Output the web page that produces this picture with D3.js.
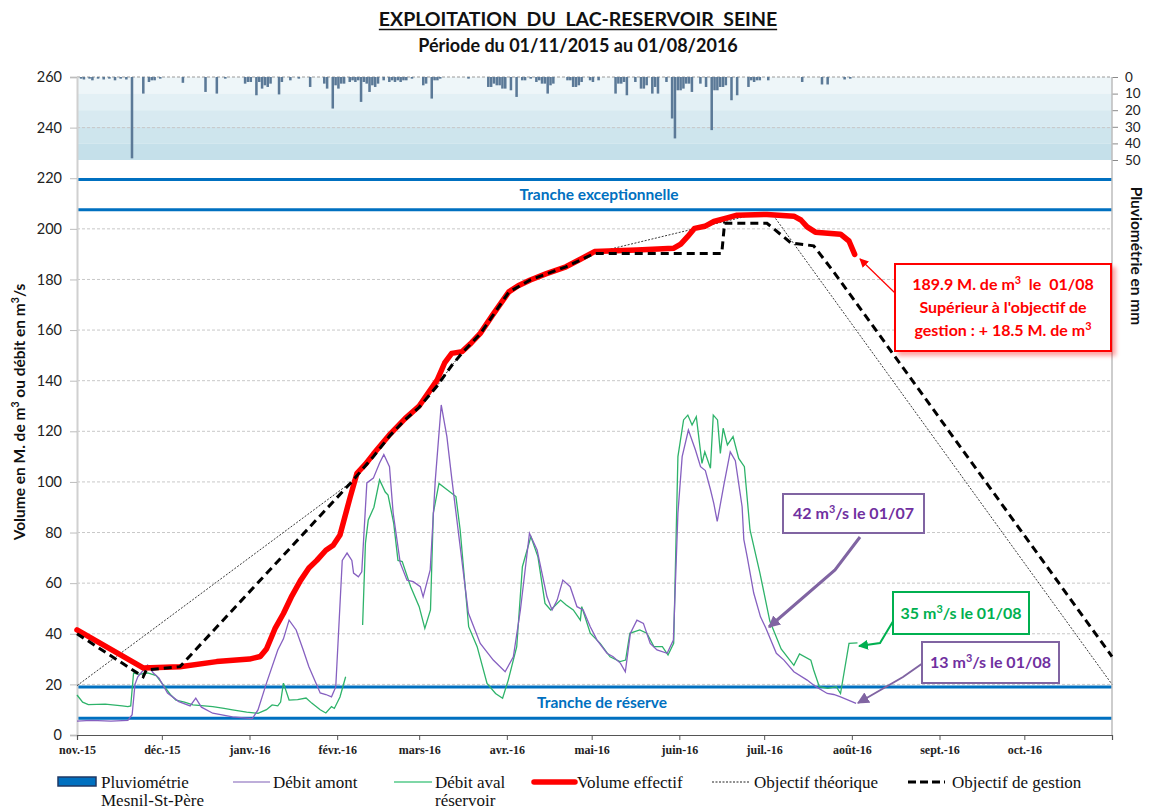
<!DOCTYPE html>
<html>
<head>
<meta charset="UTF-8">
<script src="https://cdnjs.cloudflare.com/ajax/libs/d3/7.8.5/d3.min.js"></script>
<style>
  * { margin: 0; padding: 0; }
  body { background: #fff; }
  svg { display: block; }
</style>
</head>
<body>
<svg id="chart" width="1150" height="812"></svg>
<script>
// --- Données ---
// Les séries sont données en [jour depuis le 01/11/2015, valeur]
var START = new Date(2015, 10, 1);
var END = new Date(2016, 10, 1);

var monthLabels = ["nov.-15", "déc.-15", "janv.-16", "févr.-16", "mars-16", "avr.-16",
  "mai-16", "juin-16", "juil.-16", "août-16", "sept.-16", "oct.-16"];
var yTicks = [0, 20, 40, 60, 80, 100, 120, 140, 160, 180, 200, 220, 240, 260];
var rainTicks = [0, 10, 20, 30, 40, 50];

// Niveaux des tranches (M. de m3)
var trancheLines = [219.5, 207.5, 19, 6.6];

// Pluviométrie Mesnil-St-Père (mm/jour)
var rainDays = [1, 2, 4, 5, 7, 9, 11, 13, 15, 17, 19, 23, 25, 26, 27, 29, 37, 45, 49, 52,
  59, 60, 61, 63, 64, 65, 66, 67, 68, 71, 72, 75, 78, 82, 87, 88, 90, 91, 92, 93,
  94, 96, 97, 98, 99, 100, 101, 102, 103, 104, 105, 106, 108, 110, 111, 112, 113, 114, 115, 116,
  118, 122, 123, 125, 126, 127, 128, 138, 145, 146, 147, 148, 149, 150, 151, 153, 155, 157, 158, 160,
  162, 163, 164, 165, 166, 167, 168, 173, 174, 175, 176, 177, 178, 181, 182, 184, 190, 191, 192, 193,
  194, 197, 199, 200, 201, 203, 204, 205, 208, 210, 211, 212, 213, 214, 215, 216, 217, 220, 222, 224,
  225, 226, 227, 228, 229, 231, 233, 237, 238, 239, 240, 241, 244, 256, 263, 265, 271, 273];
var rainMm = [1, 1.5, 1, 2, 1, 1.5, 1, 2, 1, 1.5, 49, 10, 3, 2, 2, 1, 3.5, 9, 10, 1,
  4, 3, 3, 11, 3, 7, 5, 6, 4, 10.5, 3, 2, 1, 6, 4, 7, 19, 5, 7, 4,
  4, 3, 2, 3, 2, 15, 3, 4, 9, 5, 6, 4, 2, 3, 2, 3, 2, 3, 2, 2,
  1, 5, 4, 13, 2, 2, 1, 1, 6, 6, 4, 5, 5, 7, 7, 8, 12, 2, 2, 1,
  3, 2, 4, 4, 10, 5, 4, 2, 2, 6, 6, 5, 3, 2, 3, 2, 10, 4, 4, 3,
  11, 3, 7, 7, 5, 10, 6, 10, 3, 25, 37, 8, 8, 7, 4, 4, 9, 4, 6, 32,
  8, 8, 6, 6, 5, 14, 11, 6, 2, 3, 2, 2, 2, 3, 4.5, 4.5, 1.5, 1];

// Débit amont (m3/s)
var amont = [[0, 5.5], [5, 5.8], [12, 5.5], [18, 5.8], [19.5, 8], [20.5, 20], [21.5, 23], [23, 25],
  [25, 27.6], [27, 24.5], [29, 22.5], [32, 16.6], [36, 13.2], [40, 11.5], [42, 14.6], [44, 11],
  [48, 8.6], [55, 7.2], [62, 6.5], [64, 9.9], [67, 20.5], [71, 33.6], [73, 38], [75, 45.4],
  [77.5, 41.5], [80, 33.6], [82, 27], [86, 16.6], [88, 16], [90, 15.1], [91.5, 19], [93.8, 69],
  [95.5, 71.9], [97.2, 69], [97.8, 64], [99.5, 62.5], [100.7, 64.5], [102.5, 99.6], [104.8, 101.5],
  [107, 107.5], [108.5, 110.8], [110.5, 106], [111.8, 87.7], [114.3, 68], [116.7, 61.2],
  [118.9, 60.6], [121.4, 58.6], [122.4, 54.6], [124.9, 65.2], [126.7, 100.7], [128.8, 130.4],
  [130.8, 117.9], [132.6, 100.7], [135.5, 74.4], [138.4, 48.2], [142.6, 36.2], [147.2, 29.6],
  [151.4, 25], [154.3, 30.9], [156.8, 49.4], [160, 79.7], [162.7, 73.1], [166.2, 54.6], [168, 49.4],
  [169.8, 53.3], [171.8, 61.2], [174.4, 58.6], [176.8, 50.7], [179, 49.4], [181.5, 42.8],
  [183.9, 37.5], [187.4, 32.3], [189.6, 30.9], [192.2, 28.3], [193.9, 25], [195.7, 40.2],
  [198, 45.4], [200.3, 44.1], [202.7, 36.2], [205.1, 33.6], [208.7, 32.3], [210.9, 37.5],
  [212.5, 87.6], [214, 110], [216.2, 120.5], [218.7, 112.6], [220.5, 106], [222.2, 104.5],
  [224, 97], [225.2, 91.4], [226.4, 84.4], [228.7, 98.5], [231, 111.9], [232.8, 108.4],
  [235.2, 90.2], [235.8, 77.3], [237, 70.4], [239.3, 56.1], [241.7, 46.7], [243.5, 42.5],
  [247.3, 32.3], [250, 29.6], [253.5, 25], [258.2, 21.7], [261, 19.3], [265.3, 16.4],
  [267.6, 16], [270, 15.1], [275.5, 12.5]];

// Débit aval réservoir (m3/s) - null = lacune
var aval = [[0, 15.8], [2, 13], [4, 12], [10, 12.2], [16, 11.5], [18, 11.2], [19, 11.5], [20, 24.5],
  [22, 24], [25, 24.5], [28, 23.5], [30, 20.5], [33, 16], [35, 13.8], [38, 13], [41, 11.9],
  [45, 11.5], [48, 11.2], [52, 10.5], [55, 9.9], [60, 9], [64, 8.6], [67, 10], [69, 11.9],
  [71, 11.5], [72, 13], [73, 20.5], [75, 13.8], [78, 14], [81, 14.6], [83, 12.6], [86, 10],
  [88, 8.7], [90, 11.2], [91, 10.5], [93, 15], [95, 23], [96, null], [101, 43.5], [102, 75.8],
  [103, 85], [105, 90], [107, 100.8], [109, 96], [110, 94.8], [112, 83.6], [113.5, 69],
  [115, 68.5], [118, 58.6], [121, 50.7], [123, 42.1], [125, 49.4], [126, 87.7], [128, 99.4],
  [131, 96.8], [134, 94.2], [135.5, 81], [138.5, 42.8], [141.5, 34.9], [145, 20.4], [148, 16.4],
  [150.5, 14.5], [152.5, 21.7], [155.5, 34.9], [157.5, 66.5], [160.5, 78.4], [163, 70.4],
  [165.5, 52], [167.5, 49.4], [171, 53.3], [173, 51.4], [175.5, 49.4], [178, 45.4], [178.5, 50.7],
  [181.5, 40.2], [185, 36.2], [188.5, 30.9], [192, 29], [194, 29.6], [195.5, 40.2], [199, 41.5],
  [201.5, 40.2], [204, 34.9], [207, 34.9], [209, 31.6], [211, 36.2], [212.5, 110], [214.5, 124.5],
  [216, 126.4], [217.5, 122.5], [219, 125.8], [221, 107.3], [222, 111.9], [224, 105.4],
  [225, 126.4], [226.5, 124.5], [227.5, 111.3], [228.5, 121.2], [230, 114.6], [232, 117.9],
  [234, 109.3], [236, 106], [238, 81], [241.5, 64], [245, 45], [249, 34], [253.5, 27.5],
  [255.5, 32], [259.5, 29.6], [260.5, 25.7], [262.5, 19.1], [265.5, 18.4], [268.5, 19.1],
  [270, 16.4], [273, 36.2], [276, 36.4]];

// Volume effectif (M. de m3)
var volume = [[0, 41.5], [23.4, 26.5], [36.4, 27], [49.4, 29], [61, 30], [64.8, 31], [67, 34],
  [70, 42], [73, 48], [76, 55], [79, 61], [82, 66], [84.8, 69], [88, 73], [90.6, 75], [93, 79],
  [96.6, 94], [99, 103.4], [102, 107], [104.8, 111], [110.8, 119], [116, 125], [121, 130],
  [127.4, 140.3], [130, 147], [132.5, 150.8], [136.2, 151.5], [139.5, 155], [142.6, 158.7],
  [147, 166], [152.7, 175.1], [156, 177.5], [160.3, 179.8], [166, 182.3], [172.9, 185],
  [178, 188], [183, 191], [198, 191.6], [210.9, 192.3], [213.5, 194], [215.9, 196.9],
  [218.4, 200.2], [222, 201], [225.2, 202.9], [229.9, 204.3], [233.4, 205.4], [244, 205.7],
  [253.5, 205], [256, 203.5], [258.2, 200.8], [261.1, 198.7], [270, 197.9], [273, 195.2],
  [275, 189.9]];

// Objectif théorique
var objTheorique = [[0, 19.5], [96.6, 99.6], [104.8, 110], [110.8, 118.5], [116, 124.5],
  [121, 129.5], [127.4, 138], [132.5, 146], [136.2, 151], [142.6, 158.5], [152.7, 175],
  [160.3, 179.8], [172.9, 185], [183, 190.5], [242, 206.4], [246, 205.7], [366, 20]];

// Objectif de gestion
var objGestion = [[0, 40], [23.4, 23], [24.5, 25.7], [36.4, 27], [96.6, 99.4], [104.8, 110],
  [110.8, 118.5], [116, 124.5], [121, 129.5], [127.4, 138], [132.5, 146], [136.2, 151],
  [142.6, 158.5], [152.7, 175], [160.3, 179.8], [172.9, 185], [183, 190.3], [228, 190.3],
  [229, 202.2], [244, 202.2], [252.5, 194.4], [260.5, 193.3], [267.6, 183], [366, 31]];

// --- Mise en page ---
var svg = d3.select("#chart");
var SANS = "Lato, 'Open Sans', sans-serif";
var SERIF = "'Liberation Serif', 'DejaVu Serif', serif";

var x = d3.scaleTime().domain([START, END]).range([77, 1112]);
var y = d3.scaleLinear().domain([0, 260]).range([735, 77]);
var yRain = d3.scaleLinear().domain([0, 50]).range([77, 160]);
function day(d) { return d3.timeDay.offset(START, Math.floor(d)).getTime() + (d % 1) * 864e5; }
function xd(d) { return x(new Date(day(d))); }

var defs = svg.append("defs");
function arrowMarker(id, color, size) {
  defs.append("marker").attr("id", id).attr("viewBox", "0 0 10 10").attr("refX", 9).attr("refY", 5)
    .attr("markerWidth", size).attr("markerHeight", size).attr("orient", "auto")
    .attr("markerUnits", "userSpaceOnUse")
    .append("path").attr("d", "M0,0L10,5L0,10z").attr("fill", color);
}
arrowMarker("arr-red", "#ff0000", 9);
arrowMarker("arr-purple", "#8064a2", 12);
arrowMarker("arr-green", "#00b050", 10);
var shadow = defs.append("filter").attr("id", "shadow").attr("x", "-10%").attr("y", "-10%")
  .attr("width", "130%").attr("height", "140%");
shadow.append("feDropShadow").attr("dx", 4).attr("dy", 4).attr("stdDeviation", 2)
  .attr("flood-color", "#ff0000").attr("flood-opacity", 0.35);

// texte avec exposant "³"
function richText(sel, str) {
  var parts = str.split("³");
  parts.forEach(function(p, i) {
    sel.append("tspan").text(p).attr("dy", i > 0 ? "0.38em" : null);
    if (i < parts.length - 1) {
      sel.append("tspan").text("3").attr("font-size", "0.68em").attr("dy", "-0.55em");
    }
  });
  return sel;
}

// Titre
var t1 = svg.append("text").attr("x", 578).attr("y", 26).attr("text-anchor", "middle")
  .attr("font-family", SANS).attr("font-weight", "bold").attr("font-size", 19.5).attr("fill", "#111")
  .style("white-space", "pre")
  .text("EXPLOITATION  DU  LAC-RESERVOIR  SEINE");
var tw = t1.node().getComputedTextLength();
svg.append("line").attr("x1", 578 - tw / 2).attr("x2", 578 + tw / 2).attr("y1", 29.5).attr("y2", 29.5)
  .attr("stroke", "#111").attr("stroke-width", 1.4);
svg.append("text").attr("x", 578).attr("y", 52).attr("text-anchor", "middle")
  .attr("font-family", SANS).attr("font-weight", "bold").attr("font-size", 18).attr("fill", "#111")
  .text("Période du 01/11/2015 au 01/08/2016");

// Bandeau pluviométrie
var bandColors = ["#eef6f9", "#e3f0f5", "#d8eaf1", "#cee5ed", "#c5e0ea"];
svg.append("g").selectAll("rect").data(bandColors).enter().append("rect")
  .attr("x", 77).attr("width", 1112 - 77)
  .attr("y", function(d, i) { return yRain(i * 10); })
  .attr("height", yRain(10) - yRain(0))
  .attr("fill", function(d) { return d; });

// Grille
svg.append("g").selectAll("line").data([20, 40, 60, 80, 100, 120, 140, 160, 180, 200, 240, 260])
  .enter().append("line")
  .attr("x1", 77).attr("x2", 1112)
  .attr("y1", function(d) { return y(d); }).attr("y2", function(d) { return y(d); })
  .attr("stroke", function(d) { return d === 260 ? "#9a9a9a" : "#c8c8c8"; })
  .attr("stroke-width", 1).attr("stroke-dasharray", "3,2");

// Barres de pluie
svg.append("g").selectAll("rect").data(rainDays).enter().append("rect")
  .attr("x", function(d) { return xd(d); })
  .attr("width", xd(1) - xd(0) - 0.3)
  .attr("y", yRain(0))
  .attr("height", function(d, i) { return yRain(rainMm[i]) - yRain(0); })
  .attr("fill", "#5b7997");

// Tranches
svg.append("g").selectAll("line").data(trancheLines).enter().append("line")
  .attr("x1", 77).attr("x2", 1112)
  .attr("y1", function(d) { return y(d); }).attr("y2", function(d) { return y(d); })
  .attr("stroke", "#0070c0").attr("stroke-width", 3);
svg.append("text").attr("x", 599).attr("y", 200).attr("text-anchor", "middle")
  .attr("font-family", SANS).attr("font-weight", "bold").attr("font-size", 15.5).attr("fill", "#0070c0")
  .text("Tranche exceptionnelle");
svg.append("text").attr("x", 602).attr("y", 708).attr("text-anchor", "middle")
  .attr("font-family", SANS).attr("font-weight", "bold").attr("font-size", 15.5).attr("fill", "#0070c0")
  .text("Tranche de réserve");

// Axes
var gl = svg.append("g").attr("transform", "translate(77,0)")
  .call(d3.axisLeft(y).tickValues(yTicks).tickSize(7).tickPadding(8));
gl.select(".domain").attr("stroke", "#d0d0d0").attr("stroke-width", 2);
gl.selectAll(".tick line").attr("stroke", "#bdbdbd");
gl.selectAll(".tick text").attr("font-family", SANS).attr("font-size", 14.5).attr("fill", "#222");

var gr = svg.append("g").attr("transform", "translate(1112,0)")
  .call(d3.axisRight(yRain).tickValues(rainTicks).tickSize(6).tickPadding(7));
gr.select(".domain").remove();
gr.selectAll(".tick line").attr("stroke", "#8a8a8a");
gr.selectAll(".tick text").attr("font-family", SANS).attr("font-size", 13.5).attr("fill", "#222");
svg.append("line").attr("x1", 1112).attr("x2", 1112).attr("y1", 77).attr("y2", 735)
  .attr("stroke", "#bdbdbd").attr("stroke-width", 1.5);

var monthDates = d3.timeMonth.range(START, END);
var gb = svg.append("g").attr("transform", "translate(0,735)")
  .call(d3.axisBottom(x).tickValues(monthDates.concat([END])).tickSize(5).tickPadding(5)
    .tickFormat(function(d, i) { return monthLabels[i] || ""; }));
gb.select(".domain").attr("stroke", "#555").attr("stroke-width", 1.2);
gb.selectAll(".tick line").attr("stroke", "#555");
gb.selectAll(".tick text").attr("font-family", SERIF).attr("font-weight", "bold")
  .attr("font-size", 12).attr("fill", "#222");

// Titres d'axes
richText(svg.append("text").attr("transform", "translate(25,412) rotate(-90)")
  .attr("text-anchor", "middle").attr("font-family", SANS).attr("font-weight", "bold")
  .attr("font-size", 15.5).attr("fill", "#111"), "Volume en M. de m³ ou débit en m³/s");
svg.append("text").attr("transform", "translate(1131,256) rotate(90)")
  .attr("text-anchor", "middle").attr("font-family", SANS).attr("font-weight", "bold")
  .attr("font-size", 15.5).attr("fill", "#111").text("Pluviométrie en mm");

// Courbes
function lineGen() {
  return d3.line().defined(function(p) { return p[1] != null; })
    .x(function(p) { return xd(p[0]); }).y(function(p) { return y(p[1]); });
}
svg.append("path").datum(aval).attr("d", lineGen()).attr("fill", "none")
  .attr("stroke", "#2eb36a").attr("stroke-width", 1.3);
svg.append("path").datum(amont).attr("d", lineGen()).attr("fill", "none")
  .attr("stroke", "#8660c0").attr("stroke-width", 1.3);
svg.append("path").datum(objTheorique).attr("d", lineGen()).attr("fill", "none")
  .attr("stroke", "#222").attr("stroke-width", 0.9).attr("stroke-dasharray", "2,1.5");
svg.append("path").datum(volume).attr("d", lineGen()).attr("fill", "none")
  .attr("stroke", "#ff0000").attr("stroke-width", 5.5).attr("stroke-linejoin", "round")
  .attr("stroke-linecap", "round");
svg.append("path").datum(objGestion).attr("d", lineGen()).attr("fill", "none")
  .attr("stroke", "#000").attr("stroke-width", 3).attr("stroke-dasharray", "8,5");

// Annotations
function callout(box, color, border, lines, fs, arrowPts, arrowW, marker, withShadow) {
  var g = svg.append("g");
  g.append("path").attr("d", d3.line()(arrowPts)).attr("fill", "none").attr("stroke", border)
    .attr("stroke-width", arrowW).attr("marker-end", "url(#" + marker + ")");
  g.append("rect").attr("x", box[0]).attr("y", box[1]).attr("width", box[2]).attr("height", box[3])
    .attr("fill", "#fff").attr("stroke", border).attr("stroke-width", 2)
    .attr("filter", withShadow ? "url(#shadow)" : null);
  var lh = fs * 1.45;
  var y0 = box[1] + box[3] / 2 - (lines.length - 1) * lh / 2 + fs * 0.35;
  lines.forEach(function(s, i) {
    richText(g.append("text").attr("x", box[0] + box[2] / 2).attr("y", y0 + i * lh)
      .attr("text-anchor", "middle").attr("font-family", SANS).attr("font-weight", "bold")
      .attr("font-size", fs).attr("fill", color).style("white-space", "pre"), s);
  });
}
callout([895, 264, 216, 87], "#ff0000", "#ff0000",
  ["189.9 M. de m³  le  01/08", "Supérieur à l'objectif de", "gestion : + 18.5 M. de m³"], 16,
  [[895, 293], [860, 259]], 1.2, "arr-red", true);
callout([783, 494, 141, 39], "#7030a0", "#8064a2", ["42 m³/s le 01/07"], 16,
  [[860, 537], [835, 570], [769, 627]], 3, "arr-purple", false);
callout([893, 592, 136, 42], "#00b050", "#00b050", ["35 m³/s le 01/08"], 16,
  [[895, 618], [880, 643], [859, 646]], 2, "arr-green", false);
callout([922, 642, 137, 41], "#7030a0", "#8064a2", ["13 m³/s le 01/08"], 16,
  [[923, 663], [903, 677], [858, 703]], 2, "arr-purple", false);

// Légende
var lg = svg.append("g").attr("font-family", SERIF).attr("font-size", 17).attr("fill", "#111");
lg.append("rect").attr("x", 58).attr("y", 777).attr("width", 38).attr("height", 9)
  .attr("fill", "#0070c0").attr("stroke", "#1f3864").attr("stroke-width", 1.5);
lg.append("text").attr("x", 101).attr("y", 788).text("Pluviométrie");
lg.append("text").attr("x", 101).attr("y", 806).text("Mesnil-St-Père");
var legendLines = [
  { x1: 233, x2: 270, color: "#7f5fb5", w: 1.2, dash: null, label: ["Débit amont"], tx: 273 },
  { x1: 394, x2: 432, color: "#00b050", w: 1.2, dash: null, label: ["Débit aval", "réservoir"], tx: 435 },
  { x1: 534, x2: 575, color: "#ff0000", w: 5.5, dash: null, label: ["Volume effectif"], tx: 577 },
  { x1: 712, x2: 750, color: "#222", w: 1, dash: "2,1.5", label: ["Objectif théorique"], tx: 754 },
  { x1: 908, x2: 945, color: "#000", w: 3, dash: "8,4", label: ["Objectif de gestion"], tx: 952 }
];
legendLines.forEach(function(l) {
  lg.append("line").attr("x1", l.x1).attr("x2", l.x2).attr("y1", 782).attr("y2", 782)
    .attr("stroke", l.color).attr("stroke-width", l.w).attr("stroke-dasharray", l.dash)
    .attr("stroke-linecap", l.w > 4 ? "round" : null);
  l.label.forEach(function(s, i) {
    lg.append("text").attr("x", l.tx).attr("y", 788 + i * 18).text(s);
  });
});
</script>
</body>
</html>
